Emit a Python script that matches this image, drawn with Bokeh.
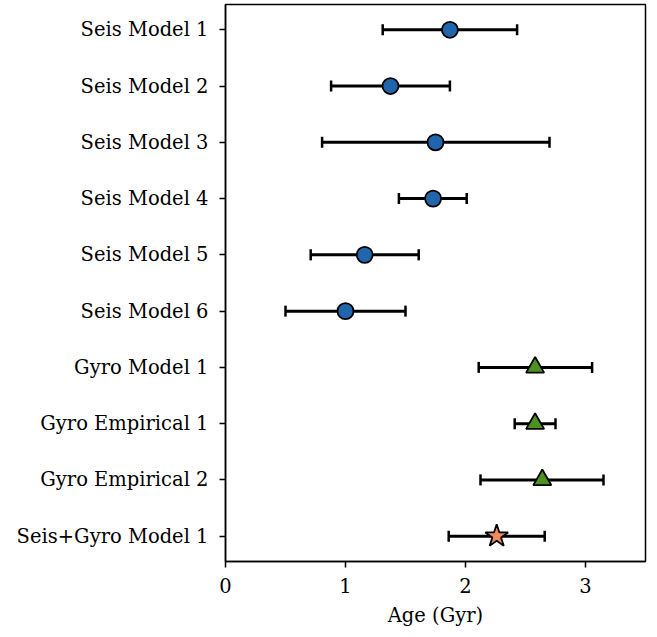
from bokeh.plotting import figure
from bokeh.models import Range1d, FixedTicker, Whisker, TeeHead, ColumnDataSource
from bokeh.embed import file_html
from bokeh.resources import INLINE

labels = ["Seis Model 1", "Seis Model 2", "Seis Model 3", "Seis Model 4",
          "Seis Model 5", "Seis Model 6", "Gyro Model 1", "Gyro Empirical 1",
          "Gyro Empirical 2", "Seis+Gyro Model 1"]
ages = [1.87, 1.375, 1.75, 1.73, 1.16, 1.00, 2.58, 2.58, 2.64, 2.26]
lower = [1.31, 0.88, 0.805, 1.445, 0.71, 0.50, 2.11, 2.41, 2.125, 1.86]
upper = [2.43, 1.87, 2.70, 2.01, 1.61, 1.50, 3.055, 2.75, 3.15, 2.66]
kinds = ["seis"] * 6 + ["gyro"] * 3 + ["combo"]

styles = {
    "seis": dict(marker="circle", size=16, color="#2166ac"),
    "gyro": dict(marker="triangle", size=18, color="#4d9221"),
    "combo": dict(marker="star", size=24, color="#ef8a62"),
}

FONT = "DejaVu Serif"
ypos = list(range(len(labels)))

p = figure(width=657, height=637, output_backend="svg", toolbar_location=None,
           x_range=Range1d(0, 3.5), y_range=Range1d(9.45, -0.45),
           min_border_left=225, min_border_right=12, min_border_top=4,
           min_border_bottom=76)
p.grid.visible = False
p.outline_line_color = "black"
p.outline_line_width = 1.5
p.background_fill_color = "white"
p.border_fill_color = "white"

src = ColumnDataSource(dict(y=ypos, lo=lower, hi=upper))
w = Whisker(source=src, base="y", lower="lo", upper="hi", dimension="width",
            line_color="black", line_width=3,
            lower_head=TeeHead(size=11, line_width=2.5, line_color="black"),
            upper_head=TeeHead(size=11, line_width=2.5, line_color="black"))
p.add_layout(w)

for kind, st in styles.items():
    idx = [i for i, k in enumerate(kinds) if k == kind]
    p.scatter([ages[i] for i in idx], [ypos[i] for i in idx], marker=st["marker"],
              size=st["size"], fill_color=st["color"], line_color="black",
              line_width=1.8)

p.yaxis.ticker = FixedTicker(ticks=ypos)
p.yaxis.major_label_overrides = {i: l for i, l in enumerate(labels)}
p.yaxis.minor_tick_line_color = None
p.xaxis.ticker = FixedTicker(ticks=[0, 1, 2, 3])
p.xaxis.minor_tick_line_color = None
p.xaxis.axis_label = "Age (Gyr)"

for ax in (p.xaxis[0], p.yaxis[0]):
    ax.axis_line_color = "black"
    ax.axis_line_width = 1.5
    ax.major_tick_line_color = "black"
    ax.major_tick_line_width = 1.5
    ax.major_tick_out = 6
    ax.major_tick_in = 0
    ax.major_label_text_font = FONT
    ax.major_label_text_font_size = "19.5px"
    ax.major_label_text_color = "black"
    ax.axis_label_text_font = FONT
    ax.axis_label_text_font_size = "19.5px"
    ax.axis_label_text_font_style = "normal"
    ax.axis_label_text_color = "black"

p.yaxis.major_label_standoff = 11
p.xaxis.major_label_standoff = 10
p.xaxis.axis_label_standoff = 8

open("out.html", "w").write(file_html(p, INLINE))
